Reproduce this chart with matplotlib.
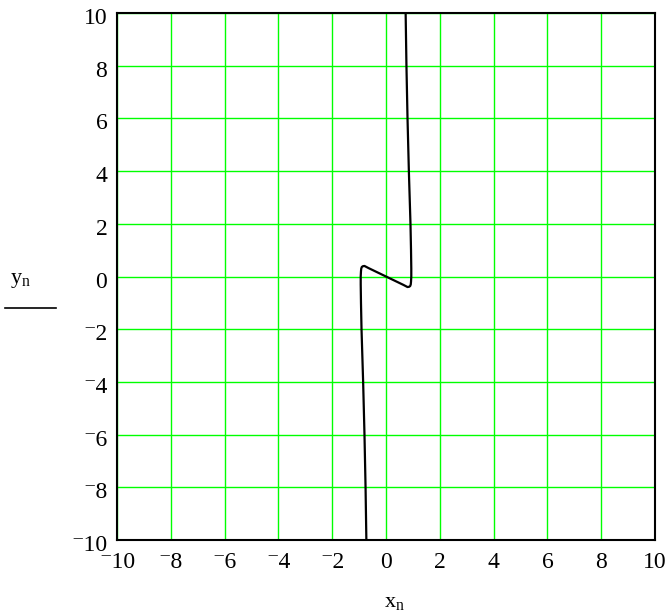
import matplotlib
matplotlib.use("Agg")
import matplotlib.pyplot as plt
from matplotlib.lines import Line2D
from matplotlib.transforms import ScaledTranslation
import numpy as np

plt.rcParams["font.family"] = ["Liberation Serif", "DejaVu Serif"]
plt.rcParams["mathtext.fontset"] = "custom"
plt.rcParams["mathtext.rm"] = "Liberation Serif"
plt.rcParams["mathtext.it"] = "Liberation Serif"

# curve points (x_n, y_n)
x_n = [0.73, 0.76, 0.80, 0.85, 0.91, 0.93, 0.94, 0.94, 0.93, 0.92, 0.90, 0.86,
       0.80, 0.65, 0.0, -0.65, -0.80, -0.86, -0.90, -0.92, -0.93, -0.94, -0.94,
       -0.93, -0.91, -0.85, -0.80, -0.76, -0.73]
y_n = [10, 8, 6, 4, 2, 1, 0.3, 0, -0.2, -0.3, -0.36, -0.39,
       -0.40, -0.32, 0.0, 0.32, 0.40, 0.39, 0.36, 0.3, 0.2, 0, -0.3,
       -1, -2, -4, -6, -8, -10]

ticks = np.arange(-10, 11, 2)
# Mathcad style: raised minus sign
tick_labels = [str(t).replace("-", "\u207b") for t in ticks]

fig = plt.figure(figsize=(6.72, 6.16), dpi=100)
ax = fig.add_axes([117 / 672, 1 - 540 / 616, 538 / 672, 527 / 616])

ax.plot(x_n, y_n, color="black", lw=1.6, solid_joinstyle="round")

ax.set_xlim(-10, 10)
ax.set_ylim(-10, 10)
ax.set_xticks(ticks)
ax.set_yticks(ticks)
ax.set_xticklabels(tick_labels)
ax.set_yticklabels(tick_labels)
ax.tick_params(length=0, labelsize=17)
ax.tick_params(axis="y", pad=7)
ax.tick_params(axis="x", pad=9)
shift = ScaledTranslation(0, -3 / 100, fig.dpi_scale_trans)
for lab in ax.get_yticklabels():
    lab.set_transform(lab.get_transform() + shift)
ax.grid(True, color="#00ff00", lw=1.0)
ax.set_axisbelow(True)
for s in ax.spines.values():
    s.set_linewidth(1.5)
    s.set_color("black")
    s.set_zorder(5)

fig.text(20 / 672, 1 - 280 / 616, r"$\mathregular{y_n}$", fontsize=16,
         ha="center", va="center")
fig.add_artist(Line2D([5 / 672, 56 / 672], [1 - 308 / 616, 1 - 308 / 616],
                      color="black", lw=1.2))
fig.text(394 / 672, 1 - 602 / 616, r"$\mathregular{x_n}$", fontsize=16,
         ha="center", va="center")

fig.savefig("out.png", dpi=100)
